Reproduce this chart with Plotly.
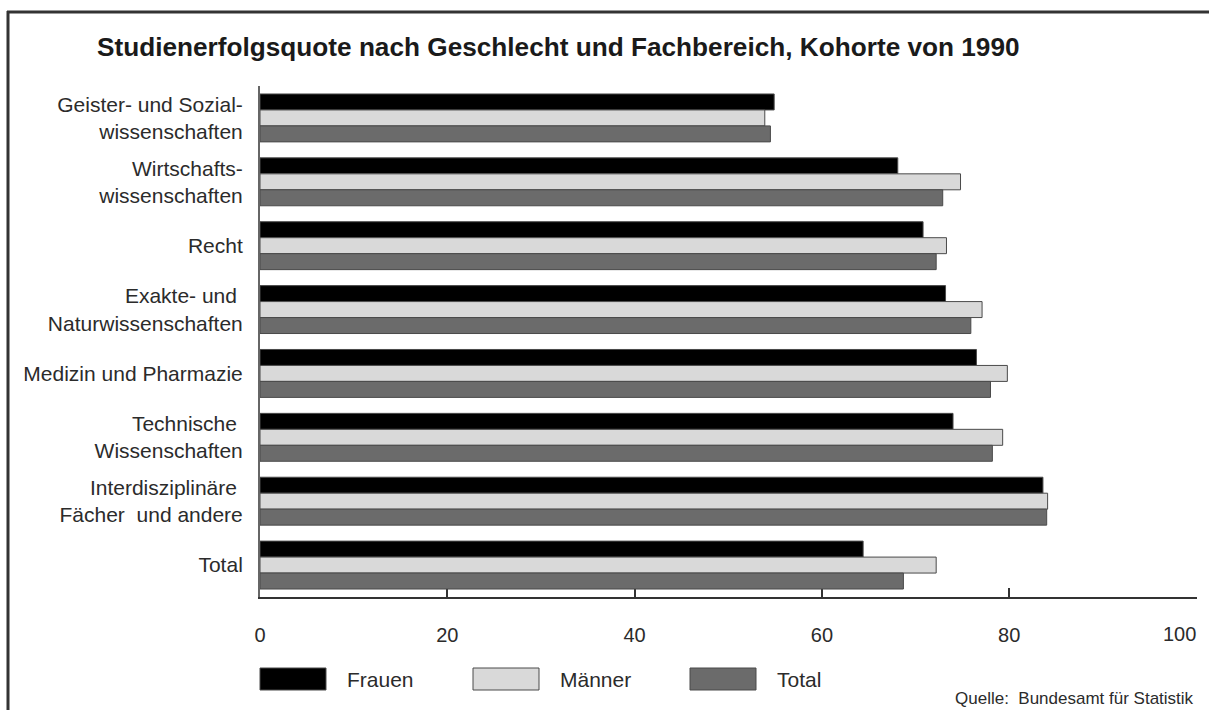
import plotly.graph_objects as go

# Studienerfolgsquote (%) nach Fachbereich
fachbereiche = [
    "Geister- und Sozial-<br>wissenschaften",
    "Wirtschafts-<br>wissenschaften",
    "Recht",
    "Exakte- und <br>Naturwissenschaften",
    "Medizin und Pharmazie",
    "Technische <br>Wissenschaften",
    "Interdisziplinäre <br>Fächer  und andere",
    "Total",
]
frauen = [54.9, 68.1, 70.8, 73.2, 76.5, 74.0, 83.6, 64.4]
maenner = [53.9, 74.8, 73.3, 77.1, 79.8, 79.3, 84.1, 72.2]
total = [54.5, 72.9, 72.2, 75.9, 78.0, 78.2, 84.0, 68.7]
x_ticks = [0, 20, 40, 60, 80, 100]
x_ticktext = ["0", "20", "40", "60", "80", ""]  # "100" is placed as an annotation so it stays inside the page

series = [("Frauen", frauen, "#000000"), ("Männer", maenner, "#d9d9d9"), ("Total", total, "#6b6b6b")]

W, H = 1209, 710
L, R, T, B = 260, 12, 86, 113
FONT = "Liberation Sans, Arial, sans-serif"


def px(x):
    return (x - L) / (W - L - R)


def py(y):
    return 1 - (y - T) / (H - T - B)


fig = go.Figure()
for name, vals, col in series:
    fig.add_trace(go.Bar(
        y=fachbereiche, x=vals, name=name, orientation="h",
        marker=dict(color=col, line=dict(color="#4a4a4a", width=1)),
        showlegend=False,
    ))

fig.update_layout(
    width=W, height=H, autosize=False,
    margin=dict(l=L, r=R, t=T, b=B, autoexpand=False),
    paper_bgcolor="white", plot_bgcolor="white",
    barmode="group", bargap=0.25, bargroupgap=0,
    font=dict(family=FONT, size=20, color="#2b2b2b"),
    title=dict(text="<b>Studienerfolgsquote nach Geschlecht und Fachbereich, Kohorte von 1990</b>",
               x=97 / W, xanchor="left", y=1 - 47 / H, yanchor="middle",
               font=dict(size=26.2, color="#1a1a1a")),
)
fig.update_xaxes(range=[0, 100.05], tickvals=x_ticks, ticktext=x_ticktext,
                 showline=True, linecolor="#333", linewidth=2,
                 ticks="inside", ticklen=9, tickcolor="#333", tickwidth=1.5,
                 showgrid=False, zeroline=False, layer="below traces",
                 ticklabeloverflow="allow", automargin=False,
                 ticklabelstandoff=19, tickfont=dict(size=20))
fig.update_yaxes(autorange="reversed", showline=True, linecolor="#666", linewidth=2,
                 showgrid=False, ticks="", ticklabelstandoff=11, automargin=False,
                 tickfont=dict(size=21))

fig.add_annotation(text=str(x_ticks[-1]), xref="x", x=x_ticks[-1], yref="paper", y=0,
                   xanchor="right", yanchor="middle", yshift=-37, xshift=1,
                   showarrow=False, font=dict(size=20))

# frame
fig.add_shape(type="line", xref="paper", yref="paper", x0=px(7), x1=px(W), y0=py(12), y1=py(12),
              line=dict(color="#333", width=3))
fig.add_shape(type="line", xref="paper", yref="paper", x0=px(8), x1=px(8), y0=py(11), y1=py(H),
              line=dict(color="#333", width=3))

# legend
leg_x = [260, 473, 690]
for (name, _, col), lx in zip(series, leg_x):
    fig.add_shape(type="rect", xref="paper", yref="paper", x0=px(lx), x1=px(lx + 66),
                  y0=py(690), y1=py(668), fillcolor=col, line=dict(color="#4a4a4a", width=1))
    fig.add_annotation(text=name, xref="paper", yref="paper", x=px(lx + 85), y=py(679),
                       xanchor="left", yanchor="middle", showarrow=False, font=dict(size=21))

fig.add_annotation(text="Quelle:  Bundesamt für Statistik", xref="paper", yref="paper",
                   x=px(1196), y=py(698), xanchor="right", yanchor="middle",
                   showarrow=False, font=dict(size=17))

fig.write_html("out.html", config={"displayModeBar": False},
               post_script="document.body.style.margin='0';")
